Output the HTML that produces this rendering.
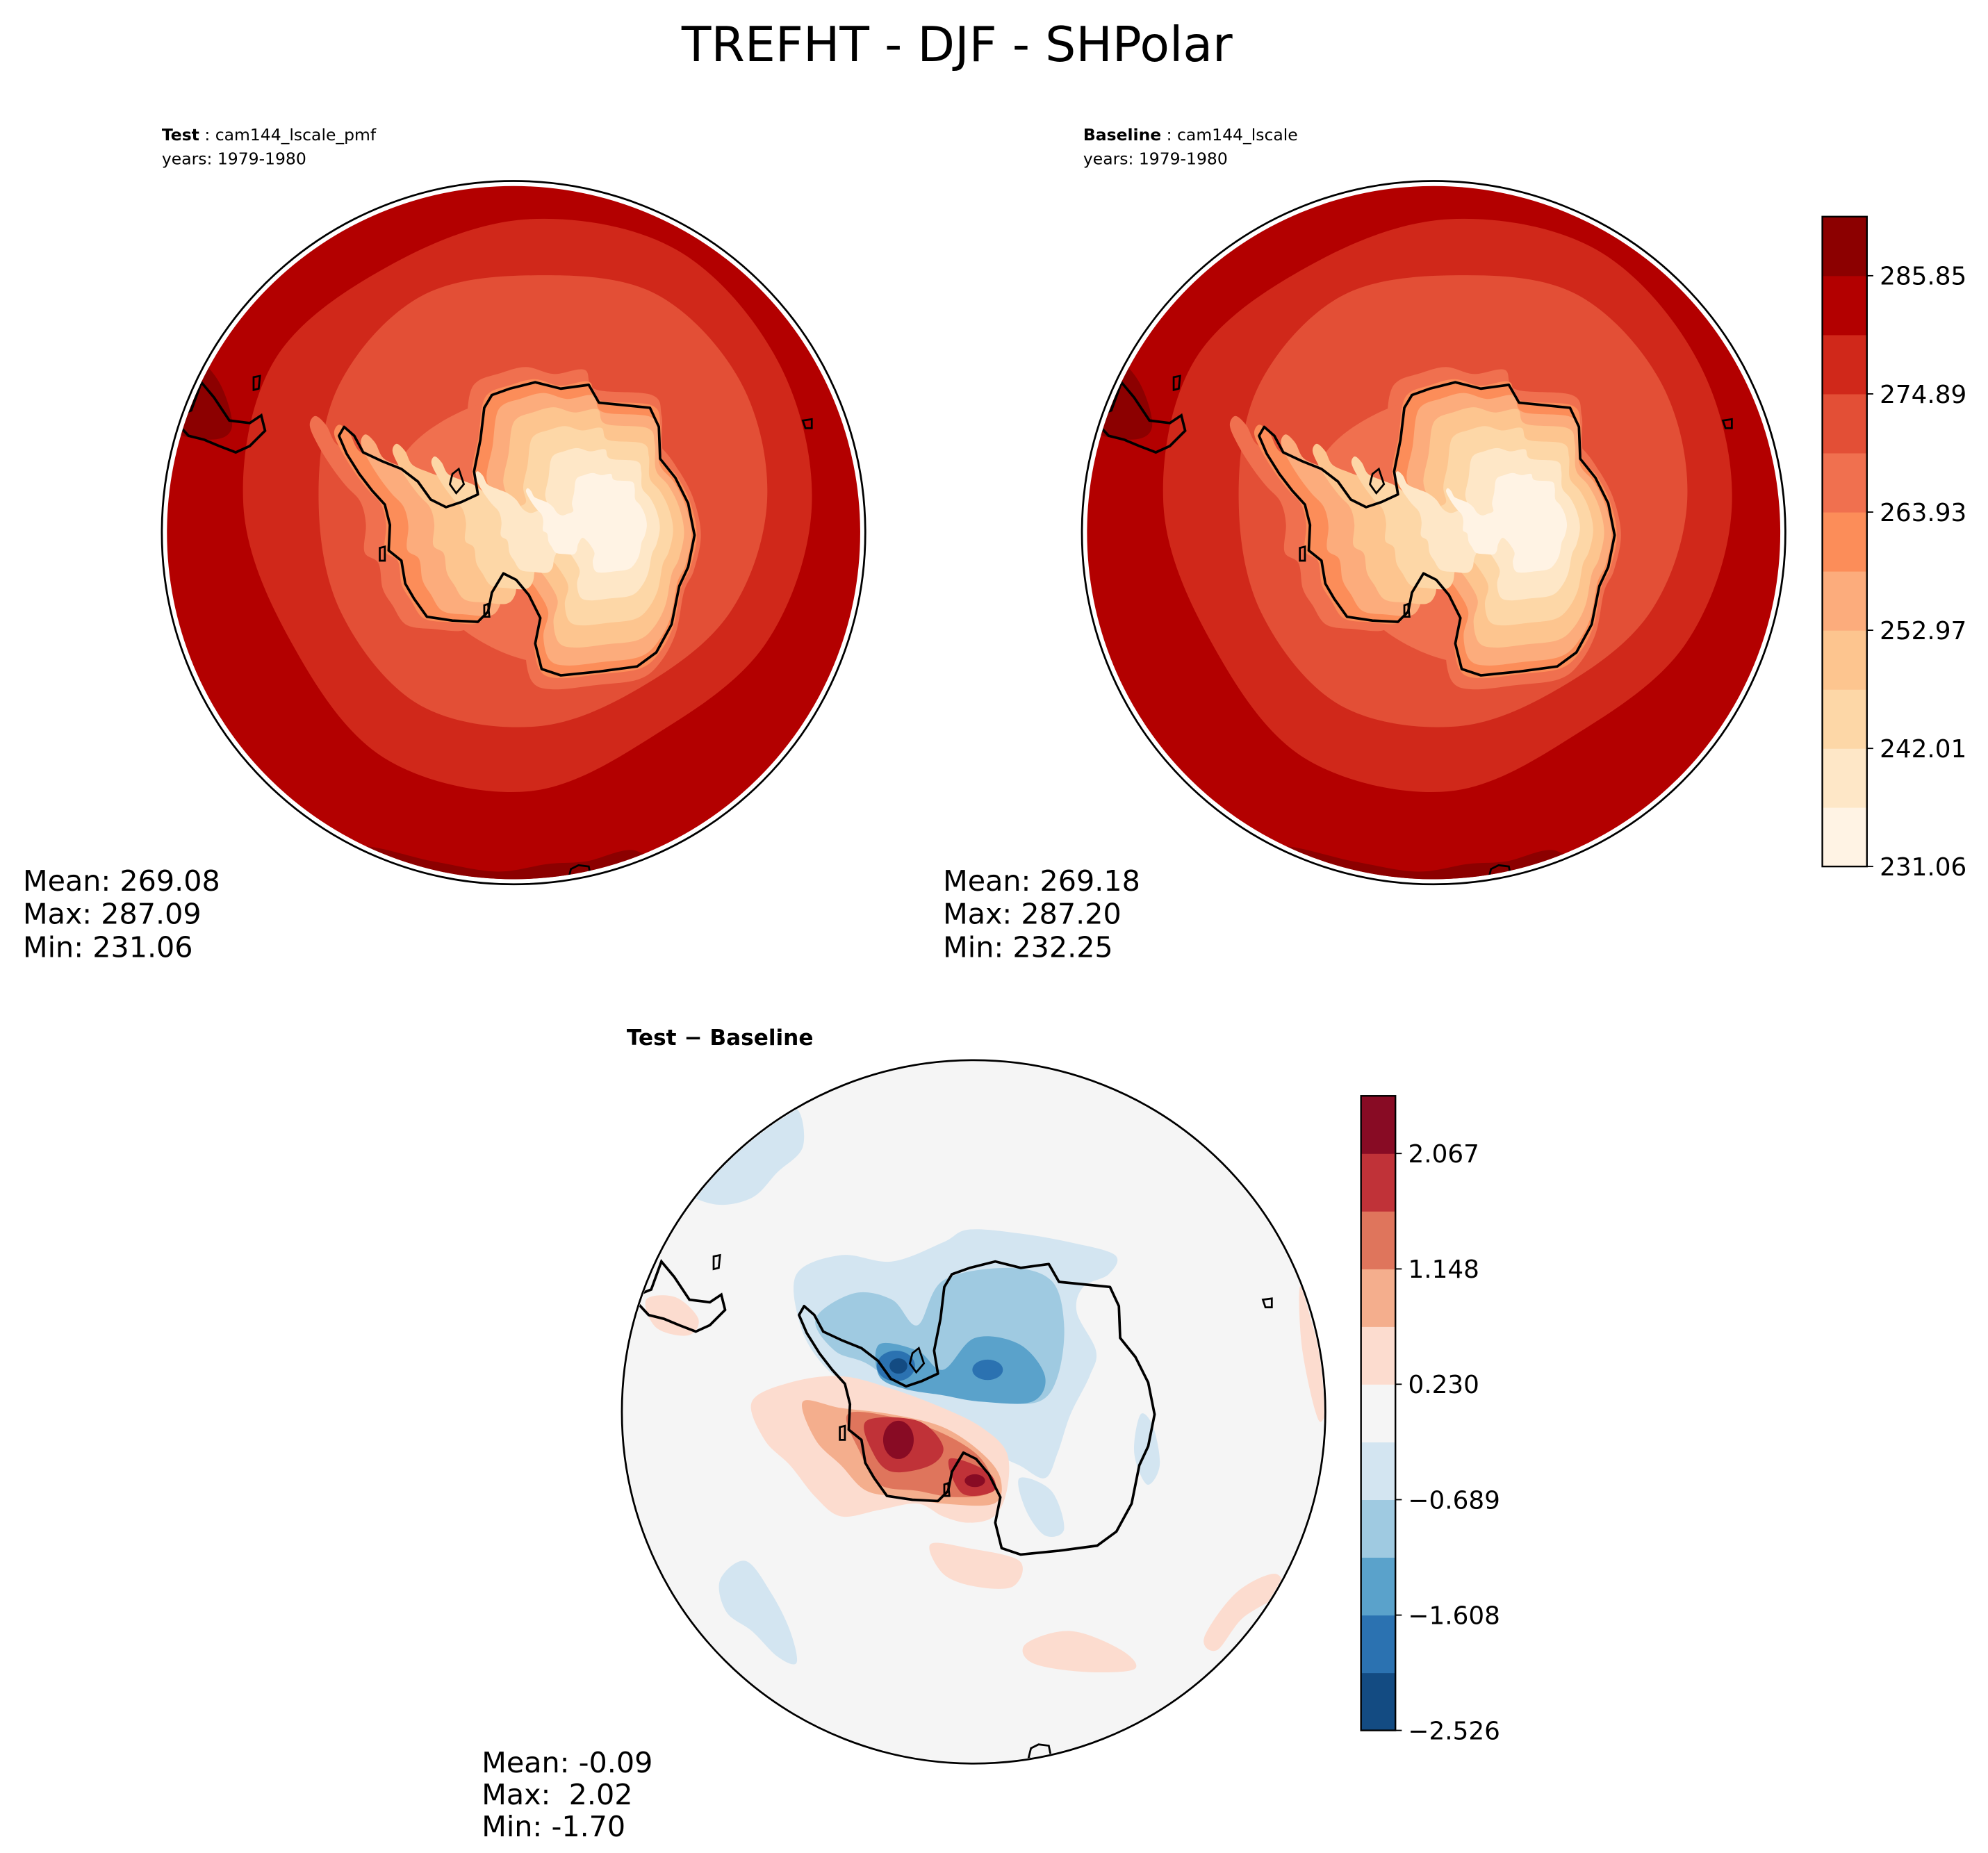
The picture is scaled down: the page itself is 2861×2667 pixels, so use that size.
<!DOCTYPE html>
<html><head><meta charset="utf-8"><style>
html,body{margin:0;padding:0;background:#fff}
svg{display:block}
text{font-family:"DejaVu Sans","Liberation Sans",sans-serif;fill:#000;white-space:pre}
</style></head><body>
<svg id="fig" xmlns="http://www.w3.org/2000/svg" width="2861" height="2667" viewBox="0 0 1560 1454.2">
<rect width="1560" height="1454.2" fill="#fff"/>
<text x="751" y="48" font-size="38" text-anchor="middle">TREFHT - DJF - SHPolar</text>
<text x="127" y="110" font-size="12.8"><tspan font-weight="bold">Test</tspan> : cam144_lscale_pmf</text>
<text x="127" y="129" font-size="12.8">years: 1979-1980</text>
<text x="850" y="110" font-size="12.8"><tspan font-weight="bold">Baseline</tspan> : cam144_lscale</text>
<text x="850" y="129" font-size="12.8">years: 1979-1980</text>
<g id="mapTest"></g>
<g id="mapBase"></g>
<g id="mapDiff"></g>
<g font-size="22.5">
<text x="18" y="699">Mean: 269.08</text><text x="18" y="725">Max: 287.09</text><text x="18" y="751">Min: 231.06</text></g>
<g font-size="22.5">
<text x="740" y="699">Mean: 269.18</text><text x="740" y="725">Max: 287.20</text><text x="740" y="751">Min: 232.25</text></g>
<text x="565" y="820" font-size="17" font-weight="bold" text-anchor="middle">Test − Baseline</text>
<g font-size="22.5">
<text x="378" y="1391">Mean: -0.09</text><text x="378" y="1416">Max:  2.02</text><text x="378" y="1441">Min: -1.70</text></g>
<g id="cbTop"></g>
<g id="cbBot"></g>
</svg>
<script>
const levelsTop = [231.06,236.54,242.01,247.49,252.97,258.45,263.93,269.41,274.89,280.37,285.85,291.33];
const colorsTop = ['#fff3e4','#fee7c7','#fdd7a7','#fdc58f','#fcac7c','#fc8d59','#f0704f','#e34f36','#d0281a','#b30000','#8c0000'];
const tickLabelsTop = ['231.06','242.01','252.97','263.93','274.89','285.85'];
const levelsDiff = [-2.526,-2.067,-1.608,-1.148,-0.689,-0.230,0.230,0.689,1.148,1.608,2.067,2.526];
const colorsDiff = ['#134b82','#2b72b1','#5aa2cb','#9fcae1','#d3e5f1','#f5f5f5','#fcdccf','#f4ae8d','#df755c','#c03238','#880b24'];
const tickLabelsDiff = ['−2.526','−1.608','−0.689','0.230','1.148','2.067'];

const NS='http://www.w3.org/2000/svg';
function mk(tag,attrs,parent){const e=document.createElementNS(NS,tag);for(const k in attrs)e.setAttribute(k,attrs[k]);parent.appendChild(e);return e;}
function smooth(pts){let d='M'+pts[0][0].toFixed(1)+','+pts[0][1].toFixed(1);const n=pts.length;
 for(let i=0;i<n;i++){const p0=pts[(i-1+n)%n],p1=pts[i],p2=pts[(i+1)%n],p3=pts[(i+2)%n];
  d+=' C'+(p1[0]+(p2[0]-p0[0])/6).toFixed(1)+','+(p1[1]+(p2[1]-p0[1])/6).toFixed(1)+' '+(p2[0]-(p3[0]-p1[0])/6).toFixed(1)+','+(p2[1]-(p3[1]-p1[1])/6).toFixed(1)+' '+p2[0].toFixed(1)+','+p2[1].toFixed(1);}
 return d+'Z';}
function poly(pts){return 'M'+pts.map(p=>p[0].toFixed(1)+','+p[1].toFixed(1)).join(' L')+'Z';}
function blob(cx,cy,radii,sy){return radii.map((r,i)=>{const a=i/radii.length*2*Math.PI;return [cx+r*Math.cos(a),cy+r*(sy||1)*Math.sin(a)];});}
const coast=[[270,335],[278,342],[285,355],[300,362],[315,368],[328,378],[338,392],[350,398],[362,394],[375,388],[372,370],[377,345],[380,320],[386,310],[400,305],[420,300],[440,305],[462,302],[470,316],[510,320],[517,335],[518,360],[530,375],[540,395],[545,420],[540,445],[533,460],[527,490],[515,512],[500,523],[470,527],[440,530],[425,525],[420,505],[424,485],[415,467],[405,455],[395,450],[386,465],[383,480],[375,488],[355,487],[335,484],[325,470],[318,458],[315,440],[305,432],[306,412],[302,396],[292,385],[282,372],[272,356],[266,342]];
function tr(pts,dx,dy){return pts.map(p=>[p[0]+dx,p[1]+dy]);}
function scl(pts,cx,cy,f,ox,oy){return pts.map(p=>[cx+(p[0]-cx)*f+(ox||0),cy+(p[1]-cy)*f+(oy||0)]);}
let clipId=0;
function drawMap(g,cx,cy,dx,dy,kind){
 const id='clip'+(clipId++);
 const defs=mk('defs',{},g);const cp=mk('clipPath',{id:id},defs);
 mk('circle',{cx:cx,cy:cy,r:kind==='diff'?275:272},cp);
 const f=mk('g',{'clip-path':'url(#'+id+')'},g);
 if(kind==='temp'){
  const c=colorsTop;
  mk('circle',{cx:cx,cy:cy,r:280,fill:c[9]},f);
  mk('path',{d:smooth(tr([[130,300],[150,280],[172,300],[182,335],[165,345],[130,335]],dx,dy)),fill:c[10]},f);
  mk('path',{d:smooth(tr([[280,665],[340,676],[390,684],[430,678],[460,676],[500,668],[520,700],[280,700]],dx,dy)),fill:c[10]},f);
  mk('path',{d:smooth(blob(415+dx,397+dy,[222,215,205,224,228,215,224,230,218,225,232,226])),fill:c[8]},f);
  mk('path',{d:smooth(blob(422+dx,392+dy,[180,175,168,178,186,178,172,180,184,176,186,184])),fill:c[7]},f);
  const cc=tr(coast,dx,dy),mx=455+dx,my=420+dy;
  mk('path',{d:smooth(scl(cc,mx,my,1.1,-4,0)),fill:c[6]},f);
  mk('path',{d:smooth(blob(425+dx,420+dy,[122,118,108,100,96,100,120,125,115,108,110,118])),fill:c[6]},f);
  const L=[[1.02,0,0],[0.93,4,0],[0.82,8,-2],[0.68,12,-4],[0.52,16,-6],[0.34,22,-8]];
  L.forEach((l,i)=>{mk('path',{d:smooth(scl(cc,mx,my,l[0],l[1],l[2])),fill:c[5-i]},f);});
 } else {
  const c=colorsDiff;
  mk('circle',{cx:cx,cy:cy,r:280,fill:c[5]},f);
  const shapes=[
   [4,[[625,1000],[660,985],[700,990],[740,975],[760,965],[800,968],[840,975],[875,985],[870,1000],[850,1010],[845,1030],[860,1060],[855,1080],[840,1110],[830,1140],[820,1160],[800,1150],[780,1140],[760,1120],[730,1110],[700,1100],[670,1090],[645,1070],[628,1040]]],
   [4,[[535,930],[560,900],[600,880],[625,870],[630,900],[610,920],[590,940],[560,945]]],
   [4,[[565,1240],[585,1225],[605,1250],[620,1280],[625,1305],[610,1300],[590,1280],[570,1265]]],
   [4,[[895,1110],[905,1120],[910,1150],[900,1165],[890,1140]]],
   [4,[[800,1160],[825,1170],[835,1200],[820,1205],[805,1185]]],
   [3,[[640,1035],[670,1015],[700,1020],[720,1040],[740,1005],[790,995],[825,1005],[835,1040],[830,1080],[815,1100],[780,1100],[760,1090],[735,1090],[710,1090],[680,1070],[655,1060]]],
   [2,[[690,1055],[720,1060],[740,1075],[765,1050],[800,1055],[820,1080],[810,1100],[770,1100],[740,1095],[710,1090],[690,1080]]],
   [6,[[590,1100],[620,1085],[660,1080],[700,1090],[740,1105],[770,1120],[790,1140],[790,1170],[780,1190],[760,1195],[740,1190],[720,1180],[690,1185],[660,1190],[640,1175],[620,1150],[600,1130]]],
   [6,[[730,1212],[760,1215],[800,1225],[795,1245],[765,1245],[740,1235]]],
   [6,[[805,1290],[840,1280],[880,1295],[890,1310],[850,1312],[810,1305]]],
   [6,[[945,1285],[970,1250],[1000,1235],[1005,1250],[975,1270],[955,1295]]],
   [6,[[507,1020],[530,1018],[548,1035],[540,1048],[515,1042]]],
   [6,[[1020,1010],[1030,1040],[1042,1090],[1035,1115],[1022,1060]]],
   [7,[[630,1100],[660,1105],[700,1110],[740,1120],[770,1140],[785,1160],[780,1180],[740,1180],[710,1175],[680,1170],[660,1150],[640,1130]]],
   [8,[[665,1110],[700,1112],[740,1125],[770,1145],[778,1170],[750,1175],[720,1170],[690,1165],[675,1140]]],
   [9,[[680,1115],[720,1115],[740,1135],[730,1150],[700,1155],[685,1140]]],
   [9,[[745,1145],[775,1155],[780,1170],[755,1172]]]
  ];
  shapes.forEach(s=>mk('path',{d:smooth(s[1]),fill:c[s[0]]},f));
  mk('ellipse',{cx:703,cy:1072,rx:15,ry:12,fill:c[1]},f);
  mk('ellipse',{cx:775,cy:1075,rx:12,ry:8,fill:c[1]},f);
  mk('ellipse',{cx:705,cy:1072,rx:7,ry:6,fill:c[0]},f);
  mk('ellipse',{cx:705,cy:1130,rx:12,ry:15,fill:c[10]},f);
  mk('ellipse',{cx:765,cy:1162,rx:8,ry:5,fill:c[10]},f);
 }
 const coastEl=mk('path',{d:poly(tr(coast,dx,dy)),fill:'none',stroke:'#000','stroke-width':2,'stroke-linejoin':'round'},f);
 
 
 mk('path',{d:poly(tr([[355,372],[360,368],[364,380],[358,387],[353,380]],dx,dy)),fill:'none',stroke:'#000','stroke-width':1.5},f);
 mk('path',{d:poly(tr([[298,430],[302,429],[302,440],[298,440]],dx,dy)),fill:'none',stroke:'#000','stroke-width':1.5},f);
 mk('path',{d:poly(tr([[380,475],[383,474],[384,484],[380,484]],dx,dy)),fill:'none',stroke:'#000','stroke-width':1.5},f);
 mk('path',{d:poly(tr([[135,328],[150,322],[158,300],[168,312],[180,330],[196,332],[205,326],[208,338],[196,350],[185,355],[172,350],[160,345],[148,342]],dx,dy)),fill:'none',stroke:'#000','stroke-width':2},f);
 mk('path',{d:poly(tr([[199,296],[204,295],[203,305],[199,306]],dx,dy)),fill:'none',stroke:'#000','stroke-width':1.5},f);
 mk('path',{d:poly(tr([[630,330],[637,329],[637,336],[632,336]],dx,dy)),fill:'none',stroke:'#000','stroke-width':1.5},f);
 mk('path',{d:poly(tr([[446,690],[448,682],[454,679],[462,680],[464,690]],dx,dy)),fill:'none',stroke:'#000','stroke-width':1.5},f);
 const ring=mk('circle',{cx:cx,cy:cy,r:276,fill:'none',stroke:'#000','stroke-width':1.5},g);
 
 
}
drawMap(document.getElementById('mapTest'),403,418,0,0,'temp');
drawMap(document.getElementById('mapBase'),1125,418,722,0,'temp');
drawMap(document.getElementById('mapDiff'),764,1108,361,690,'diff');

function colorbar(g,x0,x1,y0,y1,levels,colors,labels){
 const n=levels.length-1;
 const yOf=v=>y1-(v-levels[0])/(levels[n]-levels[0])*(y1-y0);
 for(let i=0;i<n;i++){
  const r=mk('rect',{x:x0,y:yOf(levels[i+1]),width:x1-x0,height:yOf(levels[i])-yOf(levels[i+1])+0.3,fill:colors[i]},g);
  
  
 }
 mk('rect',{x:x0,y:y0,width:x1-x0,height:y1-y0,fill:'none',stroke:'#000','stroke-width':1.3},g);
 labels.forEach((lab,k)=>{
  const y=yOf(levels[k*2]);
  mk('line',{x1:x1,x2:x1+5,y1:y,y2:y,stroke:'#000','stroke-width':1},g);
  const t=mk('text',{x:x1+10,y:y+7,'font-size':19.5},g);
  t.textContent=lab;
  
  
 });
}
colorbar(document.getElementById('cbTop'),1430,1465,170,680,levelsTop,colorsTop,tickLabelsTop);
colorbar(document.getElementById('cbBot'),1068,1095,860,1358,levelsDiff,colorsDiff,tickLabelsDiff);
</script>
</body></html>
